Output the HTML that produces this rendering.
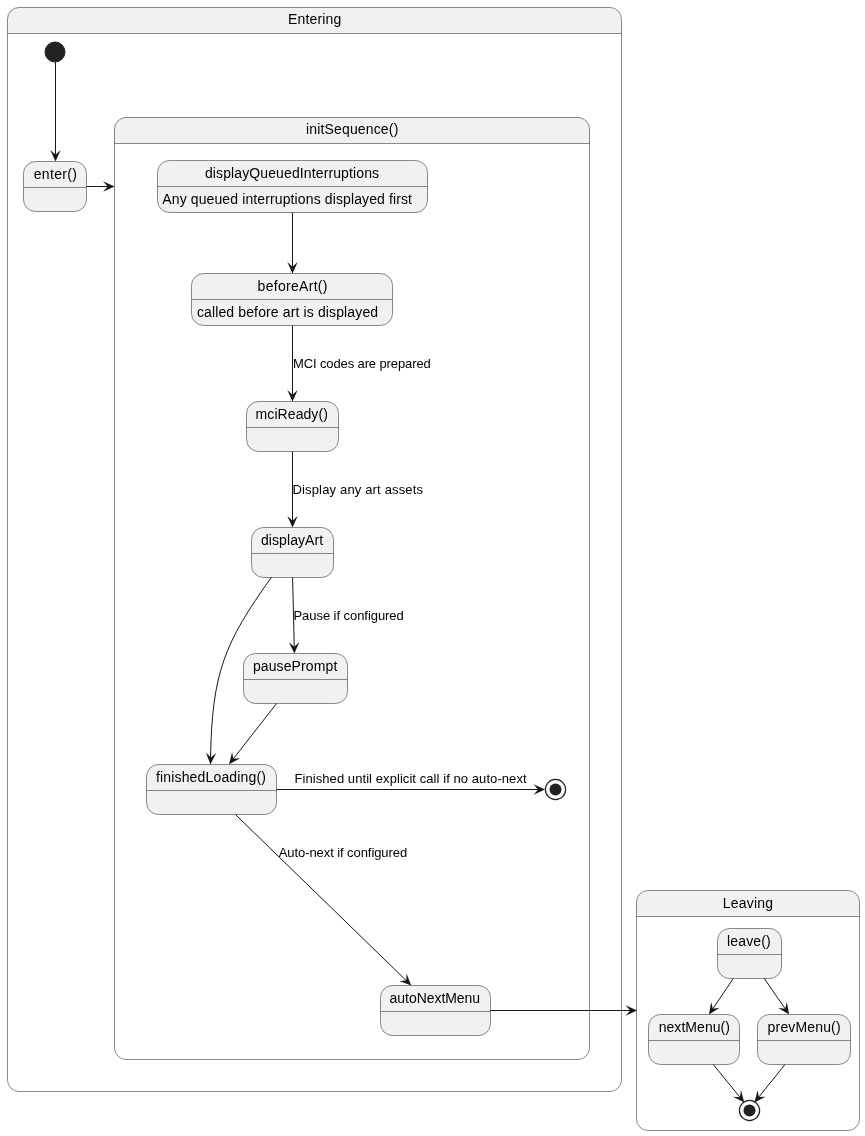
<!DOCTYPE html>
<html><head><meta charset="utf-8"><style>
html,body{margin:0;padding:0;background:#fff;width:865px;height:1136px;overflow:hidden}
svg{display:block;will-change:transform}
text{font-family:"Liberation Sans",sans-serif;fill:#000}
</style></head><body>
<svg width="865" height="1136" viewBox="0 0 865 1136">
<path d="M19.0,7.5 L610.0,7.5 A11.5,11.5 0 0 1 621.5,19.0 L621.5,33.5 L7.5,33.5 L7.5,19.0 A11.5,11.5 0 0 1 19.0,7.5 Z" fill="#F1F1F1" stroke="none"/><rect x="7.5" y="7.5" width="614" height="1084" rx="11.5" ry="11.5" fill="none" stroke="#181818" stroke-width="0.5"/><line x1="7.5" y1="33.5" x2="621.5" y2="33.5" stroke="#181818" stroke-width="0.5"/>
<path d="M126.0,117.5 L578.0,117.5 A11.5,11.5 0 0 1 589.5,129.0 L589.5,143.5 L114.5,143.5 L114.5,129.0 A11.5,11.5 0 0 1 126.0,117.5 Z" fill="#F1F1F1" stroke="none"/><rect x="114.5" y="117.5" width="475" height="942" rx="11.5" ry="11.5" fill="none" stroke="#181818" stroke-width="0.5"/><line x1="114.5" y1="143.5" x2="589.5" y2="143.5" stroke="#181818" stroke-width="0.5"/>
<path d="M648.0,890.5 L848.0,890.5 A11.5,11.5 0 0 1 859.5,902.0 L859.5,916.5 L636.5,916.5 L636.5,902.0 A11.5,11.5 0 0 1 648.0,890.5 Z" fill="#F1F1F1" stroke="none"/><rect x="636.5" y="890.5" width="223" height="240" rx="11.5" ry="11.5" fill="none" stroke="#181818" stroke-width="0.5"/><line x1="636.5" y1="916.5" x2="859.5" y2="916.5" stroke="#181818" stroke-width="0.5"/>
<rect x="23.5" y="161.5" width="63" height="50" rx="12" ry="12" fill="#F1F1F1" stroke="#181818" stroke-width="0.5"/><line x1="23.5" y1="187.5" x2="86.5" y2="187.5" stroke="#181818" stroke-width="0.5"/>
<rect x="157.5" y="160.5" width="270" height="52" rx="12" ry="12" fill="#F1F1F1" stroke="#181818" stroke-width="0.5"/><line x1="157.5" y1="186.5" x2="427.5" y2="186.5" stroke="#181818" stroke-width="0.5"/>
<rect x="191.5" y="273.5" width="201" height="52" rx="12" ry="12" fill="#F1F1F1" stroke="#181818" stroke-width="0.5"/><line x1="191.5" y1="299.5" x2="392.5" y2="299.5" stroke="#181818" stroke-width="0.5"/>
<rect x="246.5" y="401.5" width="92" height="50" rx="12" ry="12" fill="#F1F1F1" stroke="#181818" stroke-width="0.5"/><line x1="246.5" y1="427.5" x2="338.5" y2="427.5" stroke="#181818" stroke-width="0.5"/>
<rect x="251.5" y="527.5" width="82" height="50" rx="12" ry="12" fill="#F1F1F1" stroke="#181818" stroke-width="0.5"/><line x1="251.5" y1="553.5" x2="333.5" y2="553.5" stroke="#181818" stroke-width="0.5"/>
<rect x="243.5" y="653.5" width="104" height="50" rx="12" ry="12" fill="#F1F1F1" stroke="#181818" stroke-width="0.5"/><line x1="243.5" y1="679.5" x2="347.5" y2="679.5" stroke="#181818" stroke-width="0.5"/>
<rect x="146.5" y="764.5" width="130" height="50" rx="12" ry="12" fill="#F1F1F1" stroke="#181818" stroke-width="0.5"/><line x1="146.5" y1="790.5" x2="276.5" y2="790.5" stroke="#181818" stroke-width="0.5"/>
<rect x="380.5" y="985.5" width="110" height="50" rx="12" ry="12" fill="#F1F1F1" stroke="#181818" stroke-width="0.5"/><line x1="380.5" y1="1011.5" x2="490.5" y2="1011.5" stroke="#181818" stroke-width="0.5"/>
<rect x="717.5" y="928.5" width="64" height="50" rx="12" ry="12" fill="#F1F1F1" stroke="#181818" stroke-width="0.5"/><line x1="717.5" y1="954.5" x2="781.5" y2="954.5" stroke="#181818" stroke-width="0.5"/>
<rect x="648.5" y="1014.5" width="91" height="50" rx="12" ry="12" fill="#F1F1F1" stroke="#181818" stroke-width="0.5"/><line x1="648.5" y1="1040.5" x2="739.5" y2="1040.5" stroke="#181818" stroke-width="0.5"/>
<rect x="757.5" y="1014.5" width="93" height="50" rx="12" ry="12" fill="#F1F1F1" stroke="#181818" stroke-width="0.5"/><line x1="757.5" y1="1040.5" x2="850.5" y2="1040.5" stroke="#181818" stroke-width="0.5"/>
<circle cx="55" cy="52" r="10" fill="#222222" stroke="#222222" stroke-width="1"/>
<circle cx="555.5" cy="789.5" r="10.1" fill="none" stroke="#222222" stroke-width="1.25"/>
<circle cx="555.5" cy="789.5" r="6" fill="#222222" stroke="none"/>
<circle cx="749.5" cy="1110.5" r="10.1" fill="none" stroke="#222222" stroke-width="1.25"/>
<circle cx="749.5" cy="1110.5" r="6" fill="#222222" stroke="none"/>
<path d="M55.5,62 L55.50,156.00" fill="none" stroke="#181818" stroke-width="1"/><polygon points="50.30,150.00 55.50,161.60 60.70,150.00 55.50,154.70" fill="#181818" stroke="none"/>
<path d="M86.5,186.5 L109.00,186.50" fill="none" stroke="#181818" stroke-width="1"/><polygon points="103.00,191.70 114.60,186.50 103.00,181.30 107.70,186.50" fill="#181818" stroke="none"/>
<path d="M292.5,212.5 L292.50,268.00" fill="none" stroke="#181818" stroke-width="1"/><polygon points="287.30,262.00 292.50,273.60 297.70,262.00 292.50,266.70" fill="#181818" stroke="none"/>
<path d="M292.5,325.5 L292.50,396.00" fill="none" stroke="#181818" stroke-width="1"/><polygon points="287.30,390.00 292.50,401.60 297.70,390.00 292.50,394.70" fill="#181818" stroke="none"/>
<path d="M292.5,451.5 L292.50,522.00" fill="none" stroke="#181818" stroke-width="1"/><polygon points="287.30,516.00 292.50,527.60 297.70,516.00 292.50,520.70" fill="#181818" stroke="none"/>
<path d="M292.6,577.5 L294.28,648.00" fill="none" stroke="#181818" stroke-width="1"/><polygon points="288.94,642.13 294.41,653.60 299.34,641.88 294.25,646.70" fill="#181818" stroke="none"/>
<path d="M271.7,577 C224.0,643.3 212.1,672.9 210.5,758.5" fill="none" stroke="#181818" stroke-width="1"/>
<polygon points="205.86,752.55 210.47,764.40 216.24,753.07 210.81,757.51" fill="#181818" stroke="none"/>
<path d="M276.6,703.5 L232.48,759.86" fill="none" stroke="#181818" stroke-width="1"/><polygon points="232.09,751.93 229.03,764.27 240.27,758.34 233.28,758.84" fill="#181818" stroke="none"/>
<path d="M276.5,789.5 L539.50,789.50" fill="none" stroke="#181818" stroke-width="1"/><polygon points="533.50,794.70 545.10,789.50 533.50,784.30 538.20,789.50" fill="#181818" stroke="none"/>
<path d="M235.4,814.5 L407.21,981.51" fill="none" stroke="#181818" stroke-width="1"/><polygon points="399.29,981.06 411.23,985.42 406.54,973.60 406.28,980.61" fill="#181818" stroke="none"/>
<path d="M490.5,1010.5 L631.50,1010.50" fill="none" stroke="#181818" stroke-width="1"/><polygon points="625.50,1015.70 637.10,1010.50 625.50,1005.30 630.20,1010.50" fill="#181818" stroke="none"/>
<path d="M733.3,978.5 L712.10,1009.86" fill="none" stroke="#181818" stroke-width="1"/><polygon points="711.15,1001.97 708.96,1014.50 719.77,1007.80 712.83,1008.78" fill="#181818" stroke="none"/>
<path d="M764.3,978.5 L785.96,1009.88" fill="none" stroke="#181818" stroke-width="1"/><polygon points="778.27,1007.90 789.14,1014.49 786.83,1001.99 785.22,1008.81" fill="#181818" stroke="none"/>
<path d="M713.3,1064.5 L740.74,1098.22" fill="none" stroke="#181818" stroke-width="1"/><polygon points="732.92,1096.85 744.28,1102.57 740.99,1090.29 739.92,1097.21" fill="#181818" stroke="none"/>
<path d="M785.0,1064.5 L757.94,1098.11" fill="none" stroke="#181818" stroke-width="1"/><polygon points="757.65,1090.17 754.42,1102.47 765.75,1096.69 758.75,1097.09" fill="#181818" stroke="none"/>
<text x="287.91" y="24.0" font-size="14" textLength="53.40" lengthAdjust="spacing">Entering</text>
<text x="305.96" y="134.0" font-size="14" textLength="92.34" lengthAdjust="spacing">initSequence()</text>
<text x="722.84" y="908.0" font-size="14" textLength="50.28" lengthAdjust="spacing">Leaving</text>
<text x="33.73" y="178.8" font-size="14" textLength="43.22" lengthAdjust="spacing">enter()</text>
<text x="204.92" y="177.6" font-size="14" textLength="174.13" lengthAdjust="spacing">displayQueuedInterruptions</text>
<text x="162.28" y="203.8" font-size="14" textLength="249.70" lengthAdjust="spacing">Any queued interruptions displayed first</text>
<text x="257.62" y="290.7" font-size="14" textLength="69.87" lengthAdjust="spacing">beforeArt()</text>
<text x="196.90" y="316.7" font-size="14" textLength="181.20" lengthAdjust="spacing">called before art is displayed</text>
<text x="255.58" y="418.9" font-size="14" textLength="72.27" lengthAdjust="spacing">mciReady()</text>
<text x="260.98" y="545.0" font-size="14" textLength="62.13" lengthAdjust="spacing">displayArt</text>
<text x="252.91" y="670.8" font-size="14" textLength="84.39" lengthAdjust="spacing">pausePrompt</text>
<text x="155.93" y="781.8" font-size="14" textLength="110.03" lengthAdjust="spacing">finishedLoading()</text>
<text x="389.61" y="1002.8" font-size="14" textLength="90.52" lengthAdjust="spacing">autoNextMenu</text>
<text x="726.96" y="945.8" font-size="14" textLength="43.77" lengthAdjust="spacing">leave()</text>
<text x="658.65" y="1031.8" font-size="14" textLength="71.31" lengthAdjust="spacing">nextMenu()</text>
<text x="767.62" y="1031.8" font-size="14" textLength="72.99" lengthAdjust="spacing">prevMenu()</text>
<text x="292.90" y="367.7" font-size="13" textLength="137.85" lengthAdjust="spacing">MCI codes are prepared</text>
<text x="292.49" y="493.6" font-size="13" textLength="130.53" lengthAdjust="spacing">Display any art assets</text>
<text x="293.49" y="619.6" font-size="13" textLength="110.28" lengthAdjust="spacing">Pause if configured</text>
<text x="294.49" y="782.6" font-size="13" textLength="232.12" lengthAdjust="spacing">Finished until explicit call if no auto-next</text>
<text x="278.75" y="856.8" font-size="13" textLength="128.38" lengthAdjust="spacing">Auto-next if configured</text>
</svg></body></html>
